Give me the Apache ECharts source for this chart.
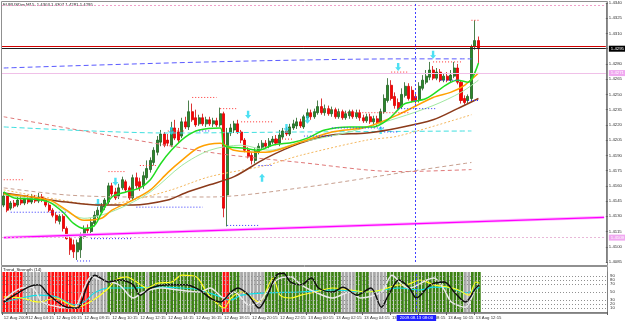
<!DOCTYPE html>
<html>
<head>
<meta charset="utf-8">
<script src="https://cdn.jsdelivr.net/npm/echarts@6/dist/echarts.min.js"></script>
<style>
    html, body { margin: 0; padding: 0; background: #fff; }
    #chart { width: 625px; height: 327px; }
</style>
</head>
<body>
<div id="chart"></div>
<script>
// EURUSDm M15, 12-13 Aug 2009
var slots = 173; // bars + empty shift on the right

// time labels, first one at bar 0, then every 8 bars from bar 7
var timeLabels = ['12 Aug 2009', '12 Aug 04:15', '12 Aug 06:15', '12 Aug 08:15', '12 Aug 10:15', '12 Aug 12:15',
    '12 Aug 14:15', '12 Aug 16:15', '12 Aug 18:15', '12 Aug 20:15', '12 Aug 22:15', '13 Aug 00:15',
    '13 Aug 02:15', '13 Aug 04:15', '13 Aug 06:15', '13 Aug 08:15', '13 Aug 10:15', '13 Aug 12:15'];

// [open, close, low, high]
var candles = [
    [1.4141,1.4150,1.4139,1.4154],[1.4150,1.4136,1.4134,1.4152],[1.4138,1.4143,1.4136,1.4145],[1.4143,1.4140,1.4138,1.4146],
    [1.4141,1.4146,1.4139,1.4149],[1.4146,1.4143,1.4141,1.4150],[1.4143,1.4147,1.4141,1.4150],[1.4147,1.4144,1.4142,1.4151],
    [1.4144,1.4148,1.4142,1.4152],[1.4148,1.4145,1.4143,1.4151],[1.4145,1.4149,1.4143,1.4153],[1.4149,1.4146,1.4144,1.4152],
    [1.4146,1.4141,1.4139,1.4148],[1.4141,1.4136,1.4134,1.4143],[1.4136,1.4131,1.4129,1.4138],[1.4131,1.4126,1.4123,1.4134],
    [1.4125,1.4130,1.4122,1.4132],[1.4130,1.4118,1.4115,1.4132],[1.4118,1.4108,1.4107,1.4120],[1.4108,1.4097,1.4092,1.4110],
    [1.4102,1.4095,1.4089,1.4107],[1.4095,1.4104,1.4087,1.4107],[1.4097,1.4110,1.4089,1.4114],[1.4110,1.4118,1.4108,1.4121],
    [1.4118,1.4116,1.4113,1.4122],[1.4115,1.4124,1.4111,1.4128],[1.4123,1.4131,1.4120,1.4135],[1.4131,1.4136,1.4128,1.4139],
    [1.4134,1.4140,1.4132,1.4143],[1.4139,1.4146,1.4136,1.4148],[1.4144,1.4160,1.4142,1.4163],[1.4160,1.4152,1.4150,1.4163],
    [1.4154,1.4148,1.4146,1.4158],[1.4150,1.4158,1.4147,1.4162],[1.4158,1.4166,1.4156,1.4169],[1.4164,1.4156,1.4154,1.4166],
    [1.4158,1.4148,1.4146,1.4160],[1.4148,1.4168,1.4145,1.4171],[1.4168,1.4160,1.4157,1.4173],[1.4164,1.4158,1.4155,1.4168],
    [1.4160,1.4170,1.4157,1.4174],[1.4168,1.4177,1.4166,1.4185],[1.4176,1.4185,1.4173,1.4188],[1.4183,1.4195,1.4180,1.4198],
    [1.4193,1.4205,1.4190,1.4209],[1.4203,1.4211,1.4199,1.4215],[1.4211,1.4200,1.4198,1.4213],[1.4205,1.4202,1.4199,1.4211],
    [1.4200,1.4217,1.4198,1.4223],[1.4217,1.4207,1.4205,1.4225],[1.4213,1.4205,1.4202,1.4217],[1.4209,1.4223,1.4207,1.4227],
    [1.4223,1.4218,1.4216,1.4228],[1.4218,1.4233,1.4215,1.4244],[1.4233,1.4225,1.4223,1.4241],[1.4227,1.4220,1.4218,1.4235],
    [1.4221,1.4227,1.4219,1.4230],[1.4227,1.4221,1.4219,1.4231],[1.4221,1.4225,1.4218,1.4228],[1.4225,1.4221,1.4219,1.4228],
    [1.4221,1.4224,1.4218,1.4227],[1.4224,1.4220,1.4218,1.4227],[1.4220,1.4231,1.4218,1.4237],[1.4231,1.4138,1.4129,1.4233],
    [1.4151,1.4212,1.4120,1.4217],[1.4212,1.4217,1.4209,1.4221],[1.4215,1.4221,1.4212,1.4224],[1.4221,1.4213,1.4211,1.4225],
    [1.4213,1.4205,1.4202,1.4215],[1.4205,1.4195,1.4193,1.4207],[1.4195,1.4189,1.4187,1.4198],[1.4190,1.4185,1.4181,1.4193],
    [1.4185,1.4194,1.4182,1.4197],[1.4193,1.4199,1.4191,1.4202],[1.4198,1.4202,1.4196,1.4205],[1.4202,1.4199,1.4197,1.4205],
    [1.4199,1.4204,1.4197,1.4207],[1.4203,1.4206,1.4201,1.4209],[1.4206,1.4202,1.4200,1.4210],[1.4202,1.4210,1.4199,1.4215],
    [1.4208,1.4214,1.4206,1.4217],[1.4214,1.4211,1.4209,1.4218],[1.4211,1.4218,1.4209,1.4221],[1.4217,1.4221,1.4215,1.4225],
    [1.4219,1.4223,1.4216,1.4227],[1.4223,1.4219,1.4217,1.4226],[1.4218,1.4228,1.4216,1.4230],[1.4227,1.4232,1.4225,1.4236],
    [1.4232,1.4228,1.4225,1.4235],[1.4228,1.4233,1.4226,1.4236],[1.4232,1.4238,1.4230,1.4244],[1.4238,1.4232,1.4230,1.4246],
    [1.4232,1.4236,1.4229,1.4240],[1.4236,1.4231,1.4229,1.4239],[1.4231,1.4235,1.4228,1.4238],[1.4235,1.4228,1.4226,1.4237],
    [1.4228,1.4233,1.4226,1.4236],[1.4233,1.4227,1.4225,1.4235],[1.4227,1.4231,1.4225,1.4234],[1.4229,1.4233,1.4226,1.4235],
    [1.4233,1.4228,1.4226,1.4235],[1.4228,1.4232,1.4226,1.4235],[1.4232,1.4227,1.4224,1.4235],[1.4227,1.4224,1.4222,1.4230],
    [1.4224,1.4228,1.4222,1.4231],[1.4228,1.4223,1.4221,1.4231],[1.4223,1.4226,1.4219,1.4229],[1.4226,1.4222,1.4219,1.4229],
    [1.4222,1.4233,1.4220,1.4236],[1.4233,1.4246,1.4231,1.4250],[1.4244,1.4259,1.4242,1.4266],[1.4259,1.4246,1.4244,1.4264],
    [1.4248,1.4239,1.4236,1.4252],[1.4242,1.4236,1.4235,1.4246],[1.4238,1.4250,1.4236,1.4256],[1.4249,1.4258,1.4247,1.4262],
    [1.4258,1.4246,1.4244,1.4261],[1.4254,1.4244,1.4242,1.4258],[1.4248,1.4244,1.4241,1.4252],[1.4244,1.4258,1.4242,1.4262],
    [1.4256,1.4264,1.4254,1.4269],[1.4262,1.4268,1.4260,1.4274],[1.4267,1.4274,1.4264,1.4282],[1.4274,1.4266,1.4264,1.4278],
    [1.4266,1.4272,1.4264,1.4276],[1.4272,1.4264,1.4262,1.4275],[1.4264,1.4268,1.4262,1.4271],[1.4268,1.4264,1.4262,1.4272],
    [1.4264,1.4269,1.4262,1.4274],[1.4268,1.4276,1.4266,1.4282],[1.4276,1.4262,1.4260,1.4280],[1.4262,1.4244,1.4241,1.4264],
    [1.4246,1.4242,1.4240,1.4249],[1.4244,1.4248,1.4241,1.4250],[1.4246,1.4297,1.4243,1.4299],[1.4297,1.4303,1.4294,1.4323],
    [1.4303,1.4295,1.4281,1.4307]
];

// moving averages read at a few bars: [bar, price]
var maFast = [[0,1.4154],[3,1.4148],[8,1.4147],[13,1.4144],[17,1.4134],[20,1.4123],[23,1.4118],[26,1.4121],[28,1.4133],
    [31,1.4149],[35,1.4154],[39,1.4158],[42,1.4166],[45,1.4182],[48,1.4195],[52,1.4208],[56,1.4215],[62,1.4217],[63,1.4200],
    [65,1.4198],[69,1.4197],[73,1.4195],[77,1.4200],[83,1.4203],[87,1.4207],[92,1.4215],[99,1.4218],[106,1.4218],[110,1.4225],
    [113,1.4235],[115,1.4241],[121,1.4246],[130,1.4264],[133,1.4262],[136,1.4281]];
var maOrange = [[0,1.4152],[13,1.4146],[18,1.4136],[23,1.4126],[28,1.4128],[31,1.4136],[37,1.4146],[42,1.4156],[47,1.4173],
    [51,1.4185],[56,1.4198],[62,1.4202],[66,1.4195],[75,1.4193],[85,1.4203],[94,1.4213],[104,1.4218],[113,1.4230],[123,1.4247],
    [128,1.4252],[132,1.4259],[136,1.4271]];
var maPale = [[0,1.4151],[13,1.4144],[23,1.4128],[32,1.4136],[42,1.4154],[51,1.4180],[59,1.4195],[68,1.4200],[76,1.4195],
    [85,1.4203],[99,1.4213],[113,1.4227],[123,1.4239],[131,1.4252],[136,1.4264]];
var maBrown = [[0,1.4153],[8,1.4149],[18,1.4144],[28,1.4141],[37,1.4141],[47,1.4146],[52,1.4153],[59,1.4161],[66,1.4169],
    [75,1.4187],[85,1.4202],[94,1.4210],[104,1.4212],[113,1.4217],[123,1.4225],[130,1.4236],[136,1.4246]];
var maLightOrange = [[0,1.4156],[13,1.4148],[28,1.4141],[37,1.4146],[48,1.4156],[59,1.4169],[75,1.4180],[85,1.4190],
    [104,1.4205],[113,1.4209],[134,1.4230]];
var maTan = [[0,1.4158],[18,1.4151],[37,1.4149],[59,1.4149],[85,1.4158],[116,1.4174],[134,1.4183]];
var maRed = [[0,1.4228],[59,1.4193],[85,1.4183],[113,1.4174],[134,1.4176]];
var maCyan = [[0,1.4218],[47,1.4212],[85,1.4213],[134,1.4214]];
var maBlue = [[0,1.4276],[59,1.4282],[116,1.4285],[134,1.4285]];
var trendMagenta = [[0,1.4109],[172,1.4129]];

// fractal levels: [fromBar, toBar, price]
var upLevels = [[0,6,1.4166],[30,35,1.4174],[39,44,1.4180],[47,52,1.4214],[54,61,1.4247],[62,67,1.4236],[68,77,1.4223],
    [78,83,1.4206],[91,94,1.4235],[95,116,1.4232],[111,116,1.4272],[123,131,1.4282],[134,136,1.4323]];
var downLevels = [[2,18,1.4134],[21,25,1.4086],[25,37,1.4108],[38,57,1.4139],[56,59,1.4214],[64,73,1.4121],[73,77,1.4180],
    [86,94,1.4209],[94,109,1.4217],[109,113,1.4213],[113,124,1.4236],[125,131,1.4264],[133,136,1.4244]];

// signal arrows [bar, price]
var arrowsDown = [[27,1.4143],[32,1.4164],[48,1.4214],[70,1.4230],[81,1.4217],[87,1.4225],[113,1.4277],[123,1.4289]];
var arrowsUp = [[74,1.4168],[108,1.4215]];

var bidPrice = 1.4295, askPrice = 1.4297;
var topLevel = 1.4338, pinkLevels = [1.4271, 1.4109];
var markBar = 118;

// lower window: zone per bar (R red, X grey, G green)
var zones = 'RRRRRRXXXXXXXRRRRRRRRRRRRXXXXXGGGGGGGGGGGXGGGGGGGGGGGGGGGGGGGGGRRGGGXXXXXXXGGGGGGGGGGGGGGGGGGGGGGXXXXGGGGXXXXXGGGGGGGGGGGGGGGGGGGGGGXXGGG';
var oscBlack = [[0,25],[7,62],[10,68],[13,42],[18,12],[21,10],[24,68],[26,92],[30,75],[33,80],[37,68],[39,42],[42,60],
    [47,68],[52,68],[56,55],[59,35],[62,25],[65,50],[67,60],[70,42],[73,10],[75,35],[78,92],[80,97],[82,75],[85,68],[88,85],
    [90,60],[94,50],[97,62],[101,42],[105,60],[108,12],[110,42],[113,80],[116,60],[118,35],[122,68],[126,75],[129,48],
    [132,25],[135,60],[136,68]];
var oscWhite = [[0,30],[5,60],[8,62],[11,25],[16,12],[20,10],[23,60],[25,88],[28,80],[33,68],[37,35],[40,50],[45,60],
    [50,55],[56,50],[59,60],[63,35],[66,50],[70,18],[73,25],[78,80],[82,88],[85,68],[89,50],[94,35],[99,50],[102,35],
    [108,50],[111,92],[114,68],[116,60],[121,80],[123,85],[126,55],[128,25],[132,12],[135,60],[136,68]];
var oscYellow = [[0,38],[5,35],[10,25],[15,35],[18,22],[21,12],[24,22],[27,38],[30,60],[32,80],[35,88],[38,75],[41,60],
    [44,72],[48,75],[51,92],[55,88],[58,50],[60,30],[63,10],[65,35],[68,50],[73,25],[77,85],[79,42],[82,35],[85,42],
    [89,50],[94,60],[99,55],[104,50],[108,55],[113,68],[115,68],[119,80],[123,68],[127,62],[130,55],[133,42],[135,75],[136,72]];
var oscCyan = [[0,25],[5,35],[10,42],[15,38],[20,18],[23,25],[26,48],[30,60],[37,60],[42,62],[51,60],[56,55],[62,38],
    [65,30],[68,42],[75,48],[85,50],[94,55],[104,50],[113,60],[119,55],[123,62],[128,60],[132,48],[136,62]];
var oscLevels = [10, 20, 30, 50, 70, 80, 90];

var zoneColors = { R: '#ff1010', X: '#a8a8a8', G: '#3c8214' };

var cats = [];
for (var i = 0; i < slots; i++) cats.push('');
cats[0] = timeLabels[0];
for (var k = 1; k < timeLabels.length; k++) cats[7 + (k - 1) * 8] = timeLabels[k];

var last = candles[candles.length - 1];
var titleText = 'EURUSDm,M15  ' + [last[0], last[3], last[2], last[1]].map(function (v) { return v.toFixed(4); }).join(' ');

var myChart = echarts.init(document.getElementById('chart'));
var FS = 4.3;
var FF = 'Liberation Sans, Arial, sans-serif';
var series = [];

series.push({
    type: 'candlestick', xAxisIndex: 0, yAxisIndex: 0, data: candles, barWidth: '72%',
    itemStyle: { color: '#2b8a2b', color0: '#ff0000', borderColor: '#1f5f1f', borderColor0: '#d40000', borderWidth: 0.8 }
});

function addLine(data, color, width, type, smooth, xi, yi) {
    var s = {
        type: 'line', xAxisIndex: xi || 0, yAxisIndex: yi || 0, data: data, symbol: 'none', smooth: smooth,
        silent: true, animation: false, lineStyle: { color: color, width: width, type: type }
    };
    series.push(s);
    return s;
}
function priceBox(bg) {
    return { show: true, position: 'end', distance: 3, fontSize: FS, fontFamily: FF, color: '#fff', backgroundColor: bg,
             padding: [1, 2], formatter: function (p) { return Number(p.value).toFixed(4); } };
}

// horizontal price lines, vertical marker
var base = addLine(trendMagenta, '#ffb4ff', 3, 'solid', false);
base.markLine = {
    silent: true, symbol: 'none', animation: false, precision: 6,
    data: [
        { yAxis: topLevel, lineStyle: { color: '#f0a0c8', width: 1, type: [2, 2] }, label: { show: false } },
        { yAxis: pinkLevels[0], lineStyle: { color: '#f0c0e8', width: 1, type: 'solid' }, label: priceBox('#f0a8f0') },
        { yAxis: pinkLevels[1], lineStyle: { color: '#e8b8d8', width: 1, type: [2, 2] }, label: priceBox('#f0a8f0') },
        { yAxis: askPrice, lineStyle: { color: '#d00000', width: 1, type: 'solid' }, label: { show: false } },
        { yAxis: bidPrice, lineStyle: { color: '#202020', width: 1, type: 'solid' }, label: priceBox('#000') },
        { xAxis: markBar, lineStyle: { color: '#4040ff', width: 1, type: [2, 2] }, label: { show: false } }
    ]
};
addLine(trendMagenta, '#ff00ff', 1.2, 'solid', false);
addLine(maBlue, '#5a5aff', 1, [5, 3], 0.3);
addLine(maCyan, '#40e0e0', 1, [5, 3], 0.3);
addLine(maRed, '#e07878', 1, [4, 3], 0.3);
addLine(maTan, '#c8a090', 1, [4, 3], 0.3);
addLine(maLightOrange, '#f4b860', 1, [2, 2], 0.3);
addLine(maBrown, '#8b3a1a', 1.5, 'solid', 0.3);
addLine(maPale, '#a0e8a0', 1, 'solid', 0.3);
addLine(maOrange, '#ffa000', 1.5, 'solid', 0.3);
addLine(maFast, '#22dd22', 1.5, 'solid', 0.3);

upLevels.forEach(function (l) {
    addLine([[l[0], l[2]], [l[1], l[2]]], '#ff3030', 1, [1, 2], false);
});
downLevels.forEach(function (l) {
    addLine([[l[0], l[2]], [l[1], l[2]]], '#3030ff', 1, [1, 2], false);
});

series.push({
    type: 'scatter', xAxisIndex: 0, yAxisIndex: 0, data: arrowsDown, silent: true, animation: false,
    symbol: 'path://M3,0 L7,0 L7,6 L10,6 L5,11 L0,6 L3,6 Z', symbolSize: [6, 8], itemStyle: { color: '#20d8f0' }
});
series.push({
    type: 'scatter', xAxisIndex: 0, yAxisIndex: 0, data: arrowsUp, silent: true, animation: false,
    symbol: 'path://M3,11 L7,11 L7,5 L10,5 L5,0 L0,5 L3,5 Z', symbolSize: [6, 8], itemStyle: { color: '#20d8f0' }
});

// lower window
series.push({
    type: 'bar', xAxisIndex: 1, yAxisIndex: 1, barWidth: '78%', silent: true, animation: false,
    data: zones.split('').map(function (z) { return { value: 100, itemStyle: { color: zoneColors[z] } }; })
});
var oscBase = addLine(oscCyan, '#10e0e8', 1.2, 'solid', 0.3, 1, 1);
oscBase.markLine = {
    silent: true, symbol: 'none', animation: false, precision: 4,
    data: oscLevels.map(function (v) {
        return { yAxis: v, lineStyle: { color: '#909090', width: 1, type: [1, 2] }, label: { show: false } };
    }).concat([{ xAxis: markBar, lineStyle: { color: '#4040ff', width: 1, type: [2, 2] },
        label: { show: true, position: 'start', distance: 3, fontSize: FS, fontFamily: FF, color: '#fff', backgroundColor: '#2020ff',
                 padding: [1, 3], formatter: '2009.08.13 08:00' } }])
};
addLine(oscYellow, '#ffff20', 1.2, 'solid', 0.3, 1, 1);
addLine(oscWhite, '#e8e8e8', 1.5, 'solid', 0.3, 1, 1);
addLine(oscBlack, '#101010', 1.5, 'solid', 0.3, 1, 1);

var option = {
    backgroundColor: '#ffffff',
    animation: false,
    grid: [
        { left: 2, top: 3, width: 605, height: 259 },
        { left: 2, top: 272, width: 605, height: 40 }
    ],
    xAxis: [
        { type: 'category', gridIndex: 0, data: cats, boundaryGap: true,
          axisLine: { show: false }, axisTick: { show: false }, axisLabel: { show: false }, splitLine: { show: false } },
        { type: 'category', gridIndex: 1, data: cats, boundaryGap: true,
          axisLine: { show: true, lineStyle: { color: '#808080' } },
          axisTick: { show: true, length: 3, lineStyle: { color: '#606060' }, interval: function (i, v) { return v !== ''; } },
          axisLabel: { show: true, fontSize: FS, fontFamily: FF, color: '#303030', margin: 4, align: 'left',
                       interval: function (i, v) { return v !== ''; } },
          splitLine: { show: false } }
    ],
    yAxis: [
        { type: 'value', gridIndex: 0, position: 'right', min: 1.4085, max: 1.4340, interval: 0.0015,
          axisLine: { show: true, lineStyle: { color: '#808080' } },
          axisTick: { show: true, length: 2, lineStyle: { color: '#606060' } },
          axisLabel: { fontSize: FS, fontFamily: FF, color: '#303030', margin: 3, formatter: function (v) { return v.toFixed(4); } },
          splitLine: { show: false } },
        { type: 'value', gridIndex: 1, position: 'right', min: 0, max: 100,
          axisLine: { show: true, lineStyle: { color: '#808080' } },
          axisTick: { show: false },
          axisLabel: { fontSize: FS, fontFamily: FF, color: '#303030', margin: 3, customValues: oscLevels },
          splitLine: { show: false } }
    ],
    graphic: [
        { type: 'rect', shape: { x: 1.5, y: 1.5, width: 606, height: 264 }, style: { fill: 'none', stroke: '#909090', lineWidth: 1 }, silent: true },
        { type: 'rect', shape: { x: 1.5, y: 266.5, width: 606, height: 47 }, style: { fill: 'none', stroke: '#909090', lineWidth: 1 }, silent: true },
        { type: 'text', left: 3, top: 3, style: { text: titleText, fontSize: FS, fill: '#202020', fontFamily: FF }, silent: true },
        { type: 'text', left: 3, top: 267.5, style: { text: 'Trend_Strength (14)', fontSize: FS, fill: '#202020', fontFamily: FF }, silent: true }
    ],
    series: series
};
myChart.setOption(option);
</script>
</body>
</html>
